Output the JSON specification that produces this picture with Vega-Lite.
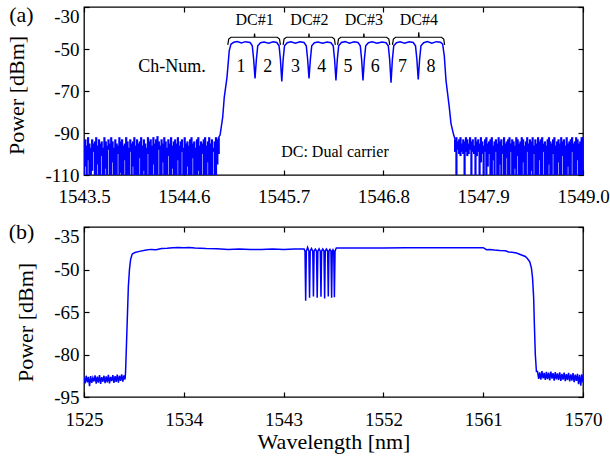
{
"$schema": "https://vega.github.io/schema/vega-lite/v6.json",
"padding": {"left": 5, "top": 3, "right": 0, "bottom": 2},
"spacing": 13,
"config": {
 "font": "Liberation Serif",
 "view": {"stroke": "black", "strokeWidth": 1.3},
 "axis": {"labelFont": "Liberation Serif", "labelFontSize": 19, "labelColor": "black", "titleFont": "Liberation Serif", "titleFontSize": 22, "titleFontWeight": "normal", "titleColor": "black", "domain": false, "grid": false, "tickColor": "black", "tickSize": -5, "tickWidth": 1.2, "labelFlush": false, "labelOverlap": false}
},
"datasets": {
 "an": [
{"x":1543.5,"hi":-94,"lo":-110},{"x":1543.515,"hi":-93,"lo":-106},{"x":1543.53,"hi":-96,"lo":-110},{"x":1543.545,"hi":-92,"lo":-103},{"x":1543.56,"hi":-95,"lo":-110},{"x":1543.575,"hi":-97,"lo":-110},{"x":1543.59,"hi":-93,"lo":-108},{"x":1543.605,"hi":-95,"lo":-99},{"x":1543.62,"hi":-94,"lo":-110},{"x":1543.635,"hi":-92,"lo":-110},
{"x":1543.65,"hi":-96,"lo":-105},{"x":1543.665,"hi":-93,"lo":-110},{"x":1543.68,"hi":-95,"lo":-110},{"x":1543.695,"hi":-94,"lo":-101},{"x":1543.71,"hi":-97,"lo":-110},{"x":1543.725,"hi":-92,"lo":-110},{"x":1543.74,"hi":-94,"lo":-107},{"x":1543.755,"hi":-96,"lo":-110},{"x":1543.77,"hi":-93,"lo":-98},{"x":1543.785,"hi":-95,"lo":-110},
{"x":1543.8,"hi":-92,"lo":-110},{"x":1543.815,"hi":-94,"lo":-104},{"x":1543.83,"hi":-97,"lo":-110},{"x":1543.845,"hi":-93,"lo":-110},{"x":1543.86,"hi":-95,"lo":-110},{"x":1543.875,"hi":-96,"lo":-100},{"x":1543.89,"hi":-92,"lo":-110},{"x":1543.905,"hi":-94,"lo":-109},{"x":1543.92,"hi":-93,"lo":-110},{"x":1543.935,"hi":-96,"lo":-110},
{"x":1543.95,"hi":-95,"lo":-103},{"x":1543.965,"hi":-92,"lo":-110},{"x":1543.98,"hi":-94,"lo":-110},{"x":1543.995,"hi":-97,"lo":-110},{"x":1544.01,"hi":-93,"lo":-99},{"x":1544.025,"hi":-95,"lo":-110},{"x":1544.04,"hi":-94,"lo":-106},{"x":1544.055,"hi":-92,"lo":-110},{"x":1544.07,"hi":-96,"lo":-110},{"x":1544.085,"hi":-93,"lo":-110},
{"x":1544.1,"hi":-95,"lo":-110},{"x":1544.115,"hi":-94,"lo":-102},{"x":1544.13,"hi":-92,"lo":-110},{"x":1544.145,"hi":-96,"lo":-110},{"x":1544.16,"hi":-93,"lo":-108},{"x":1544.175,"hi":-95,"lo":-110},{"x":1544.19,"hi":-97,"lo":-110},{"x":1544.205,"hi":-92,"lo":-100},{"x":1544.22,"hi":-94,"lo":-110},{"x":1544.235,"hi":-93,"lo":-110},
{"x":1544.25,"hi":-96,"lo":-110},{"x":1544.265,"hi":-92,"lo":-105},{"x":1544.28,"hi":-95,"lo":-110},{"x":1544.295,"hi":-93,"lo":-110},{"x":1544.31,"hi":-91.5,"lo":-110},{"x":1544.325,"hi":-94,"lo":-98},{"x":1544.34,"hi":-96,"lo":-110},{"x":1544.355,"hi":-93,"lo":-110},{"x":1544.37,"hi":-95,"lo":-104},{"x":1544.385,"hi":-92,"lo":-110},
{"x":1544.4,"hi":-94,"lo":-110},{"x":1544.415,"hi":-97,"lo":-110},{"x":1544.43,"hi":-93,"lo":-101},{"x":1544.445,"hi":-95,"lo":-110},{"x":1544.46,"hi":-92,"lo":-110},{"x":1544.475,"hi":-96,"lo":-107},{"x":1544.49,"hi":-94,"lo":-110},{"x":1544.505,"hi":-93,"lo":-110},{"x":1544.52,"hi":-95,"lo":-110},{"x":1544.535,"hi":-92,"lo":-103},
{"x":1544.55,"hi":-96,"lo":-110},{"x":1544.565,"hi":-94,"lo":-110},{"x":1544.58,"hi":-93,"lo":-99},{"x":1544.595,"hi":-97,"lo":-110},{"x":1544.61,"hi":-92,"lo":-110},{"x":1544.625,"hi":-95,"lo":-110},{"x":1544.64,"hi":-94,"lo":-106},{"x":1544.655,"hi":-96,"lo":-110},{"x":1544.67,"hi":-93,"lo":-110},{"x":1544.685,"hi":-92,"lo":-110},
{"x":1544.7,"hi":-95,"lo":-102},{"x":1544.715,"hi":-94,"lo":-110},{"x":1544.73,"hi":-97,"lo":-110},{"x":1544.745,"hi":-93,"lo":-110},{"x":1544.76,"hi":-92,"lo":-108},{"x":1544.775,"hi":-96,"lo":-110},{"x":1544.79,"hi":-94,"lo":-110},{"x":1544.805,"hi":-95,"lo":-100},{"x":1544.82,"hi":-93,"lo":-110},{"x":1544.835,"hi":-92,"lo":-110},
{"x":1544.85,"hi":-96,"lo":-110},{"x":1544.865,"hi":-94,"lo":-104},{"x":1544.88,"hi":-92,"lo":-110},{"x":1544.895,"hi":-95,"lo":-110},{"x":1544.91,"hi":-93,"lo":-110},{"x":1544.925,"hi":-97,"lo":-99},{"x":1544.94,"hi":-94,"lo":-110},{"x":1544.955,"hi":-92,"lo":-110},{"x":1544.97,"hi":-93,"lo":-105},{"x":1544.985,"hi":-92,"lo":-100},
{"x":1547.59,"hi":-93,"lo":-99},{"x":1547.605,"hi":-92,"lo":-110},{"x":1547.62,"hi":-94,"lo":-98},{"x":1547.635,"hi":-93,"lo":-100},{"x":1547.65,"hi":-92,"lo":-101},{"x":1547.665,"hi":-95,"lo":-99},{"x":1547.68,"hi":-93,"lo":-100},{"x":1547.695,"hi":-94,"lo":-110},{"x":1547.71,"hi":-92,"lo":-99},{"x":1547.725,"hi":-93,"lo":-101},
{"x":1547.74,"hi":-95,"lo":-100},{"x":1547.755,"hi":-92,"lo":-98},{"x":1547.77,"hi":-94,"lo":-110},{"x":1547.785,"hi":-93,"lo":-99},{"x":1547.8,"hi":-96,"lo":-100},{"x":1547.815,"hi":-92,"lo":-110},{"x":1547.83,"hi":-94,"lo":-101},{"x":1547.845,"hi":-93,"lo":-99},{"x":1547.86,"hi":-95,"lo":-110},{"x":1547.875,"hi":-92,"lo":-104},
{"x":1547.89,"hi":-94,"lo":-100},{"x":1547.905,"hi":-96,"lo":-110},{"x":1547.92,"hi":-93,"lo":-99},{"x":1547.935,"hi":-92,"lo":-110},{"x":1547.95,"hi":-95,"lo":-106},{"x":1547.965,"hi":-94,"lo":-100},{"x":1547.98,"hi":-93,"lo":-110},{"x":1547.995,"hi":-92,"lo":-110},{"x":1548.01,"hi":-96,"lo":-103},{"x":1548.025,"hi":-94,"lo":-110},
{"x":1548.04,"hi":-93,"lo":-99},{"x":1548.055,"hi":-95,"lo":-110},{"x":1548.07,"hi":-92,"lo":-110},{"x":1548.085,"hi":-94,"lo":-105},{"x":1548.1,"hi":-93,"lo":-110},{"x":1548.115,"hi":-96,"lo":-100},{"x":1548.13,"hi":-92,"lo":-110},{"x":1548.145,"hi":-95,"lo":-110},{"x":1548.16,"hi":-94,"lo":-102},{"x":1548.175,"hi":-93,"lo":-110},
{"x":1548.19,"hi":-92,"lo":-110},{"x":1548.205,"hi":-95,"lo":-99},{"x":1548.22,"hi":-93,"lo":-110},{"x":1548.235,"hi":-94,"lo":-110},{"x":1548.25,"hi":-96,"lo":-107},{"x":1548.265,"hi":-92,"lo":-110},{"x":1548.28,"hi":-93,"lo":-101},{"x":1548.295,"hi":-95,"lo":-110},{"x":1548.31,"hi":-94,"lo":-110},{"x":1548.325,"hi":-92,"lo":-110},
{"x":1548.34,"hi":-93,"lo":-104},{"x":1548.355,"hi":-96,"lo":-110},{"x":1548.37,"hi":-94,"lo":-110},{"x":1548.385,"hi":-92,"lo":-99},{"x":1548.4,"hi":-95,"lo":-110},{"x":1548.415,"hi":-93,"lo":-110},{"x":1548.43,"hi":-94,"lo":-108},{"x":1548.445,"hi":-92,"lo":-110},{"x":1548.46,"hi":-96,"lo":-100},{"x":1548.475,"hi":-93,"lo":-110},
{"x":1548.49,"hi":-95,"lo":-110},{"x":1548.505,"hi":-92,"lo":-110},{"x":1548.52,"hi":-94,"lo":-103},{"x":1548.535,"hi":-93,"lo":-110},{"x":1548.55,"hi":-92,"lo":-110},{"x":1548.565,"hi":-95,"lo":-99},{"x":1548.58,"hi":-94,"lo":-110},{"x":1548.595,"hi":-96,"lo":-110},{"x":1548.61,"hi":-93,"lo":-110},{"x":1548.625,"hi":-92,"lo":-105},
{"x":1548.64,"hi":-94,"lo":-110},{"x":1548.655,"hi":-95,"lo":-110},{"x":1548.67,"hi":-93,"lo":-100},{"x":1548.685,"hi":-92,"lo":-110},{"x":1548.7,"hi":-96,"lo":-110},{"x":1548.715,"hi":-94,"lo":-110},{"x":1548.73,"hi":-93,"lo":-104},{"x":1548.745,"hi":-95,"lo":-110},{"x":1548.76,"hi":-92,"lo":-110},{"x":1548.775,"hi":-94,"lo":-101},
{"x":1548.79,"hi":-93,"lo":-110},{"x":1548.805,"hi":-96,"lo":-110},{"x":1548.82,"hi":-92,"lo":-110},{"x":1548.835,"hi":-95,"lo":-106},{"x":1548.85,"hi":-94,"lo":-110},{"x":1548.865,"hi":-93,"lo":-110},{"x":1548.88,"hi":-92,"lo":-99},{"x":1548.895,"hi":-95,"lo":-110},{"x":1548.91,"hi":-94,"lo":-110},{"x":1548.925,"hi":-92,"lo":-110},
{"x":1548.94,"hi":-93,"lo":-103},{"x":1548.955,"hi":-95,"lo":-110},{"x":1548.97,"hi":-94,"lo":-110},{"x":1548.985,"hi":-92,"lo":-110},{"x":1549.0,"hi":-92,"lo":-110}
 ],
 "a": [
{"x":1544.985,"y":-92},
{"x":1545.0,"y":-91},{"x":1545.029,"y":-82.4},{"x":1545.046,"y":-73},{"x":1545.076,"y":-63.5},{"x":1545.101,"y":-50.8},
{"x":1545.12,"y":-47.7},{"x":1545.15,"y":-46.8},{"x":1545.19,"y":-46.4},{"x":1545.235,"y":-47.1},{"x":1545.28,"y":-46.5},{"x":1545.33,"y":-46.9},{"x":1545.355,"y":-48.5},{"x":1545.37,"y":-55},{"x":1545.385,"y":-64},
{"x":1545.4,"y":-55},{"x":1545.415,"y":-48.5},{"x":1545.445,"y":-47},{"x":1545.485,"y":-46.7},{"x":1545.535,"y":-47.3},{"x":1545.585,"y":-46.6},{"x":1545.625,"y":-46.9},{"x":1545.65,"y":-48.5},{"x":1545.665,"y":-55},{"x":1545.68,"y":-65.5},
{"x":1545.695,"y":-55},{"x":1545.71,"y":-48.5},{"x":1545.74,"y":-47},{"x":1545.78,"y":-46.6},{"x":1545.83,"y":-47.2},{"x":1545.88,"y":-46.6},{"x":1545.925,"y":-46.9},{"x":1545.95,"y":-48.5},{"x":1545.965,"y":-55},{"x":1545.98,"y":-64},
{"x":1545.995,"y":-55},{"x":1546.01,"y":-48.5},{"x":1546.04,"y":-47},{"x":1546.08,"y":-46.7},{"x":1546.13,"y":-47.3},{"x":1546.18,"y":-46.7},{"x":1546.222,"y":-47},{"x":1546.247,"y":-48.5},{"x":1546.262,"y":-55},{"x":1546.277,"y":-65},
{"x":1546.292,"y":-55},{"x":1546.307,"y":-48.5},{"x":1546.337,"y":-46.9},{"x":1546.377,"y":-46.5},{"x":1546.427,"y":-47.2},{"x":1546.477,"y":-46.6},{"x":1546.52,"y":-46.9},{"x":1546.545,"y":-48.5},{"x":1546.56,"y":-55},{"x":1546.575,"y":-65},
{"x":1546.59,"y":-55},{"x":1546.605,"y":-48.5},{"x":1546.635,"y":-47},{"x":1546.675,"y":-46.6},{"x":1546.73,"y":-47.3},{"x":1546.785,"y":-46.7},{"x":1546.829,"y":-47},{"x":1546.854,"y":-48.5},{"x":1546.869,"y":-55},{"x":1546.884,"y":-66},
{"x":1546.899,"y":-55},{"x":1546.914,"y":-48.5},{"x":1546.944,"y":-47},{"x":1546.984,"y":-46.6},{"x":1547.034,"y":-47.2},{"x":1547.084,"y":-46.6},{"x":1547.129,"y":-46.9},{"x":1547.154,"y":-48.5},{"x":1547.169,"y":-55},{"x":1547.184,"y":-64.5},
{"x":1547.199,"y":-55},{"x":1547.214,"y":-48.5},{"x":1547.244,"y":-47},{"x":1547.284,"y":-46.5},{"x":1547.334,"y":-47.2},{"x":1547.384,"y":-46.5},{"x":1547.43,"y":-46.8},{"x":1547.453,"y":-47.7},{"x":1547.471,"y":-53.2},{"x":1547.49,"y":-65},{"x":1547.526,"y":-77.7},{"x":1547.545,"y":-85.5},{"x":1547.575,"y":-91},{"x":1547.59,"y":-93}
 ],
 "b": [
{"x":1525.0,"y":-88.0},{"x":1525.1,"y":-90.2},{"x":1525.2,"y":-87.5},{"x":1525.3,"y":-89.8},{"x":1525.4,"y":-87.9},{"x":1525.5,"y":-91.2},{"x":1525.6,"y":-87.6},{"x":1525.7,"y":-90.0},{"x":1525.8,"y":-88.2},{"x":1525.9,"y":-89.5},
{"x":1526.0,"y":-87.4},{"x":1526.1,"y":-90.3},{"x":1526.2,"y":-87.8},{"x":1526.3,"y":-89.9},{"x":1526.4,"y":-87.3},{"x":1526.5,"y":-90.4},{"x":1526.6,"y":-88.0},{"x":1526.7,"y":-89.6},{"x":1526.8,"y":-87.5},{"x":1526.9,"y":-90.1},
{"x":1527.0,"y":-87.7},{"x":1527.1,"y":-89.8},{"x":1527.2,"y":-87.2},{"x":1527.3,"y":-90.2},{"x":1527.4,"y":-87.9},{"x":1527.5,"y":-89.4},{"x":1527.6,"y":-87.3},{"x":1527.7,"y":-90.0},{"x":1527.8,"y":-87.6},{"x":1527.9,"y":-89.7},
{"x":1528.0,"y":-87.1},{"x":1528.1,"y":-89.9},{"x":1528.2,"y":-87.5},{"x":1528.3,"y":-89.3},{"x":1528.4,"y":-87.0},{"x":1528.5,"y":-89.6},{"x":1528.6,"y":-87.4},{"x":1528.7,"y":-88.8},
{"x":1528.75,"y":-86},{"x":1528.8,"y":-80},{"x":1528.9,"y":-68},{"x":1529.0,"y":-56},{"x":1529.1,"y":-50},{"x":1529.2,"y":-46.5},{"x":1529.35,"y":-44.5},{"x":1529.6,"y":-44.0},{"x":1530.0,"y":-43.6},{"x":1530.5,"y":-43.2},
{"x":1531.0,"y":-42.9},{"x":1531.5,"y":-43.0},{"x":1532.0,"y":-42.6},{"x":1532.5,"y":-42.5},{"x":1533.0,"y":-42.3},{"x":1533.5,"y":-42.2},{"x":1534.0,"y":-42.3},{"x":1534.5,"y":-42.2},{"x":1535.0,"y":-42.4},{"x":1535.5,"y":-42.5},
{"x":1536.0,"y":-42.6},{"x":1537.0,"y":-42.7},{"x":1538.0,"y":-42.9},{"x":1539.0,"y":-42.8},{"x":1540.0,"y":-42.9},{"x":1541.0,"y":-42.9},{"x":1542.0,"y":-42.8},{"x":1543.0,"y":-42.9},{"x":1544.0,"y":-42.8},{"x":1544.85,"y":-42.8},
{"x":1544.93,"y":-43.5},{"x":1544.99,"y":-61},{"x":1545.05,"y":-43.5},{"x":1545.165,"y":-42.2},{"x":1545.28,"y":-43.5},{"x":1545.34,"y":-60},{"x":1545.4,"y":-43.5},{"x":1545.515,"y":-42.6},{"x":1545.63,"y":-43.5},{"x":1545.69,"y":-59.5},
{"x":1545.75,"y":-43.5},{"x":1545.86,"y":-42.8},{"x":1545.97,"y":-43.5},{"x":1546.03,"y":-60},{"x":1546.09,"y":-43.5},{"x":1546.2,"y":-42.7},{"x":1546.31,"y":-43.5},{"x":1546.37,"y":-59.6},{"x":1546.43,"y":-43.5},{"x":1546.535,"y":-42.8},
{"x":1546.64,"y":-43.5},{"x":1546.7,"y":-60.2},{"x":1546.76,"y":-43.5},{"x":1546.865,"y":-42.8},{"x":1546.97,"y":-43.5},{"x":1547.03,"y":-59.5},{"x":1547.09,"y":-43.5},{"x":1547.18,"y":-42.9},{"x":1547.27,"y":-43.5},{"x":1547.33,"y":-60},
{"x":1547.39,"y":-43.5},{"x":1547.455,"y":-43},{"x":1547.52,"y":-43.5},{"x":1547.58,"y":-59.8},{"x":1547.64,"y":-43.5},{"x":1547.75,"y":-42.4},{"x":1548.5,"y":-42.4},{"x":1550.0,"y":-42.4},{"x":1552.0,"y":-42.4},{"x":1554.0,"y":-42.3},
{"x":1556.0,"y":-42.3},{"x":1558.0,"y":-42.3},{"x":1560.0,"y":-42.3},{"x":1561.0,"y":-42.3},{"x":1561.3,"y":-43.0},{"x":1561.6,"y":-42.9},{"x":1562.0,"y":-43.1},{"x":1562.5,"y":-43.3},{"x":1563.0,"y":-43.4},{"x":1563.3,"y":-43.8},
{"x":1563.6,"y":-43.9},{"x":1564.0,"y":-44.2},{"x":1564.4,"y":-44.8},{"x":1564.8,"y":-45.4},{"x":1565.0,"y":-46.2},{"x":1565.2,"y":-47.3},{"x":1565.35,"y":-49.5},{"x":1565.45,"y":-53},{"x":1565.55,"y":-60},{"x":1565.62,"y":-70},
{"x":1565.7,"y":-80},{"x":1565.8,"y":-86},
{"x":1565.9,"y":-86.0},{"x":1566.0,"y":-88.6},{"x":1566.1,"y":-86.3},{"x":1566.2,"y":-88.9},{"x":1566.3,"y":-85.9},{"x":1566.4,"y":-88.4},{"x":1566.5,"y":-86.5},{"x":1566.6,"y":-89.0},{"x":1566.7,"y":-86.1},{"x":1566.8,"y":-88.7},
{"x":1566.9,"y":-86.4},{"x":1567.0,"y":-89.1},{"x":1567.1,"y":-86.0},{"x":1567.2,"y":-88.5},{"x":1567.3,"y":-86.6},{"x":1567.4,"y":-89.2},{"x":1567.5,"y":-86.2},{"x":1567.6,"y":-88.8},{"x":1567.7,"y":-86.7},{"x":1567.8,"y":-89.0},
{"x":1567.9,"y":-86.3},{"x":1568.0,"y":-89.3},{"x":1568.1,"y":-86.8},{"x":1568.2,"y":-88.9},{"x":1568.3,"y":-86.4},{"x":1568.4,"y":-89.4},{"x":1568.5,"y":-86.9},{"x":1568.6,"y":-89.0},{"x":1568.7,"y":-86.5},{"x":1568.8,"y":-89.5},
{"x":1568.9,"y":-87.0},{"x":1569.0,"y":-89.2},{"x":1569.1,"y":-86.6},{"x":1569.2,"y":-89.8},{"x":1569.3,"y":-87.1},{"x":1569.4,"y":-89.3},{"x":1569.5,"y":-86.8},{"x":1569.6,"y":-90.5},{"x":1569.7,"y":-87.2},{"x":1569.8,"y":-91.0},
{"x":1569.9,"y":-87.0},{"x":1570.0,"y":-89.9}
 ],
 "br": [
{"g":1,"x":1545.085,"y":-48},{"g":1,"x":1545.095,"y":-45.3},{"g":1,"x":1545.12,"y":-44.4},{"g":1,"x":1545.376,"y":-44.4},{"g":1,"x":1545.38,"y":-42.6},{"g":1,"x":1545.384,"y":-44.4},{"g":1,"x":1545.63,"y":-44.4},{"g":1,"x":1545.655,"y":-45.3},{"g":1,"x":1545.665,"y":-48},
{"g":2,"x":1545.695,"y":-48},{"g":2,"x":1545.705,"y":-45.3},{"g":2,"x":1545.73,"y":-44.4},{"g":2,"x":1545.976,"y":-44.4},{"g":2,"x":1545.98,"y":-42.6},{"g":2,"x":1545.984,"y":-44.4},{"g":2,"x":1546.235,"y":-44.4},{"g":2,"x":1546.26,"y":-45.3},{"g":2,"x":1546.27,"y":-48},
{"g":3,"x":1546.295,"y":-48},{"g":3,"x":1546.305,"y":-45.3},{"g":3,"x":1546.33,"y":-44.4},{"g":3,"x":1546.581,"y":-44.4},{"g":3,"x":1546.585,"y":-42.6},{"g":3,"x":1546.589,"y":-44.4},{"g":3,"x":1546.835,"y":-44.4},{"g":3,"x":1546.86,"y":-45.3},{"g":3,"x":1546.87,"y":-48},
{"g":4,"x":1546.9,"y":-48},{"g":4,"x":1546.91,"y":-45.3},{"g":4,"x":1546.935,"y":-44.4},{"g":4,"x":1547.186,"y":-44.4},{"g":4,"x":1547.19,"y":-42.0},{"g":4,"x":1547.194,"y":-44.4},{"g":4,"x":1547.44,"y":-44.4},{"g":4,"x":1547.465,"y":-45.3},{"g":4,"x":1547.475,"y":-48}
 ],
 "chA": [
{"x":1544.47,"y":-58.8,"t":"Ch-Num."},{"x":1545.23,"y":-58.8,"t":"1"},{"x":1545.525,"y":-58.8,"t":"2"},{"x":1545.83,"y":-58.8,"t":"3"},{"x":1546.12,"y":-58.8,"t":"4"},{"x":1546.41,"y":-58.8,"t":"5"},{"x":1546.71,"y":-58.8,"t":"6"},{"x":1547.01,"y":-58.8,"t":"7"},{"x":1547.325,"y":-58.8,"t":"8"}
 ],
 "dcA": [
{"x":1545.38,"y":-36.4,"t":"DC#1"},{"x":1545.985,"y":-36.4,"t":"DC#2"},{"x":1546.585,"y":-36.4,"t":"DC#3"},{"x":1547.19,"y":-36.4,"t":"DC#4"},{"x":1546.266,"y":-99.1,"t":"DC: Dual carrier"}
 ],
 "labA": [{"x":1542.81,"y":-33.8,"t":"(a)"}],
 "labB": [{"x":1519.36,"y":-36.76,"t":"(b)"}]
},
"vconcat": [
 {
  "width": 499, "height": 168,
  "layer": [
   {
    "data": {"name": "an"},
    "mark": {"type": "rule", "color": "#0000ff", "strokeWidth": 2.2, "clip": true},
    "encoding": {
     "x": {"field": "x", "type": "quantitative", "scale": {"domain": [1543.5, 1549.0], "nice": false, "zero": false}, "axis": {"values": [1543.5, 1544.6, 1545.7, 1546.8, 1547.9, 1549.0], "format": ".1f", "title": null, "labelPadding": 17}},
     "y": {"field": "hi", "type": "quantitative", "scale": {"domain": [-110, -30], "nice": false, "zero": false}, "axis": {"values": [-110, -90, -70, -50, -30], "labelExpr": "'' + datum.value", "title": "Power [dBm]", "titlePadding": 16, "titleY": 88, "labelPadding": 10, "labelBaseline": {"condition": {"test": "datum.value == -30", "value": "top"}, "value": "middle"}}},
     "y2": {"field": "lo"}
    }
   },
   {
    "data": {"name": "a"},
    "mark": {"type": "line", "color": "#0000ff", "strokeWidth": 1.5, "clip": true},
    "encoding": {
     "x": {"field": "x", "type": "quantitative", "scale": {"domain": [1543.5, 1549.0], "nice": false, "zero": false}, "axis": null},
     "y": {"field": "y", "type": "quantitative", "scale": {"domain": [-110, -30], "nice": false, "zero": false}, "axis": null}
    }
   },
   {
    "data": {"name": "br"},
    "mark": {"type": "line", "color": "black", "strokeWidth": 1.2},
    "encoding": {
     "x": {"field": "x", "type": "quantitative", "scale": {"domain": [1543.5, 1549.0], "nice": false, "zero": false}, "axis": {"orient": "top", "values": [1543.5, 1544.6, 1545.7, 1546.8, 1547.9, 1549.0], "labels": false, "title": null}},
     "y": {"field": "y", "type": "quantitative", "scale": {"domain": [-110, -30], "nice": false, "zero": false}, "axis": {"orient": "right", "values": [-110, -90, -70, -50, -30], "labels": false, "title": null}},
     "detail": {"field": "g", "type": "nominal"}
    }
   },
   {
    "data": {"name": "chA"},
    "mark": {"type": "text", "fontSize": 18, "color": "black", "align": "center", "baseline": "middle"},
    "encoding": {
     "x": {"field": "x", "type": "quantitative", "scale": {"domain": [1543.5, 1549.0], "nice": false, "zero": false}, "axis": null},
     "y": {"field": "y", "type": "quantitative", "scale": {"domain": [-110, -30], "nice": false, "zero": false}, "axis": null},
     "text": {"field": "t"}
    }
   },
   {
    "data": {"name": "dcA"},
    "mark": {"type": "text", "fontSize": 16, "color": "black", "align": "center", "baseline": "middle"},
    "encoding": {
     "x": {"field": "x", "type": "quantitative", "scale": {"domain": [1543.5, 1549.0], "nice": false, "zero": false}, "axis": null},
     "y": {"field": "y", "type": "quantitative", "scale": {"domain": [-110, -30], "nice": false, "zero": false}, "axis": null},
     "text": {"field": "t"}
    }
   },
   {
    "data": {"name": "labA"},
    "mark": {"type": "text", "fontSize": 22, "color": "black", "align": "center", "baseline": "middle"},
    "encoding": {
     "x": {"field": "x", "type": "quantitative", "scale": {"domain": [1543.5, 1549.0], "nice": false, "zero": false}, "axis": null},
     "y": {"field": "y", "type": "quantitative", "scale": {"domain": [-110, -30], "nice": false, "zero": false}, "axis": null},
     "text": {"field": "t"}
    }
   }
  ],
  "resolve": {"axis": {"x": "independent", "y": "independent"}}
 },
 {
  "width": 499, "height": 170,
  "layer": [
   {
    "data": {"name": "b"},
    "mark": {"type": "line", "color": "#0000ff", "strokeWidth": 1.5, "clip": true},
    "encoding": {
     "x": {"field": "x", "type": "quantitative", "scale": {"domain": [1525, 1570], "nice": false, "zero": false}, "axis": {"values": [1525, 1534, 1543, 1552, 1561, 1570], "format": "d", "title": "Wavelength [nm]", "titlePadding": 2, "labelPadding": 18}},
     "y": {"field": "y", "type": "quantitative", "scale": {"domain": [-95, -35], "nice": false, "zero": false}, "axis": {"values": [-95, -80, -65, -50, -35], "labelExpr": "'' + datum.value", "title": "Power [dBm]", "titlePadding": 16, "titleY": 95, "labelPadding": 10, "labelBaseline": {"condition": {"test": "datum.value == -35", "value": "top"}, "value": "middle"}}}
    }
   },
   {
    "data": {"name": "labB"},
    "mark": {"type": "text", "fontSize": 22, "color": "black", "align": "center", "baseline": "middle"},
    "encoding": {
     "x": {"field": "x", "type": "quantitative", "scale": {"domain": [1525, 1570], "nice": false, "zero": false}, "axis": {"orient": "top", "values": [1525, 1534, 1543, 1552, 1561, 1570], "labels": false, "title": null}},
     "y": {"field": "y", "type": "quantitative", "scale": {"domain": [-95, -35], "nice": false, "zero": false}, "axis": {"orient": "right", "values": [-95, -80, -65, -50, -35], "labels": false, "title": null}},
     "text": {"field": "t"}
    }
   }
  ],
  "resolve": {"axis": {"x": "independent", "y": "independent"}}
 }
]
}
